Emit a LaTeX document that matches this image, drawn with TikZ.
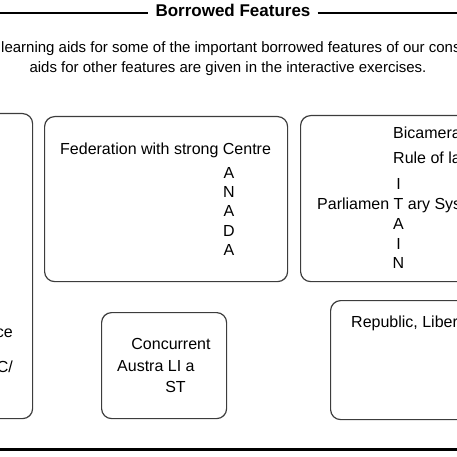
\documentclass[tikz,border=0pt]{standalone}
\usepackage{fontspec}
\setmainfont{Liberation Sans}
\usetikzlibrary{positioning}
\definecolor{featline}{HTML}{3C3C3C}
\definecolor{ruleink}{HTML}{000000}
\tikzset{
  featbox/.style  = {draw=featline, line width=1.2pt, rounded corners=10pt,
                     inner sep=0pt, anchor=north west},
  feattxt/.style  = {font=\fontsize{16}{19}\selectfont, inner sep=0pt,
                     anchor=base west},
  featltr/.style  = {font=\fontsize{16}{19}\selectfont, inner sep=0pt,
                     anchor=base},
  introtxt/.style = {font=\fontsize{15}{18}\selectfont, inner sep=0pt},
  titletxt/.style = {font=\fontsize{17}{20}\selectfont\bfseries,
                     inner xsep=7pt, inner ysep=0pt, anchor=base},
  ruleline/.style = {draw=ruleink, line width=1.6pt},
  footline/.style = {draw=ruleink, line width=3pt},
}

\begin{document}
\begin{tikzpicture}[x=1pt, y=-1pt]
  \useasboundingbox (0,0) rectangle (457,457);
  % heading
  \node[titletxt] (ttl) at (233,17) {Borrowed Features};
  \coordinate (ruleL) at (0,13);
  \coordinate (ruleR) at (457,13);
  \draw[ruleline] (ruleL) -- (ruleL -| ttl.west);
  \draw[ruleline] (ttl.east |- ruleR) -- (ruleR);
  \node[introtxt, anchor=base west] (intro1) at (1,53)
       {learning aids for some of the important borrowed features of our cons};
  \node[introtxt, anchor=base] (intro2) at (228,73)
       {aids for other features are given in the interactive exercises.};

  % boxes
  \node[featbox, minimum width=132pt, minimum height=305pt] (bxleft) at (-100,113) {};
  \node[featbox, minimum width=243pt, minimum height=165pt] (bxfed) at (44,116) {};
  \node[featbox, minimum width=260pt, minimum height=166pt] (bxbrit) at (300,115) {};
  \node[featbox, minimum width=125pt, minimum height=106pt] (bxconc) at (101,312) {};
  \node[featbox, minimum width=230pt, minimum height=119pt] (bxrep) at (330,300) {};

  % left box
  \node[feattxt, anchor=base east] (lf1) at (13,337) {ce};
  \node[feattxt, anchor=base east] (lf2) at (13,372) {C/};

  % federation
  \node[feattxt] (fed) at (60,155) {Federation with strong Centre};
  \node[featltr] (can1) at (229,178) {A};
  \node[featltr, below=8pt of can1] (can2) {N};
  \node[featltr, below=8pt of can2] (can3) {A};
  \node[featltr, below=8pt of can3] (can4) {D};
  \node[featltr, below=8pt of can4] (can5) {A};

  % britain
  \node[feattxt] (bicam) at (393,139) {Bicamera};
  \node[feattxt] (rulelaw) at (393,164) {Rule of la};
  \node[featltr] (brit1) at (398.5,189) {I};
  \node[feattxt] (parl) at (317,209) {Parliamen T ary Sys};
  \node[featltr] (brit2) at (398.5,229) {A};
  \node[featltr] (brit3) at (398.5,249) {I};
  \node[featltr] (brit4) at (398.5,268) {N};

  % concurrent
  \node[featltr] (conc) at (171,349) {Concurrent};
  \node[feattxt] (aus1) at (117,371) {Austra LI a};
  \node[featltr] (aus2) at (175.5,392) {ST};

  % republic
  \node[feattxt] (repub) at (351,327) {Republic, Liber};

  % footer
  \coordinate (footL) at (0,449);
  \coordinate (footR) at (457,449);
  \draw[footline] (footL) -- (footR);
\end{tikzpicture}
\end{document}
